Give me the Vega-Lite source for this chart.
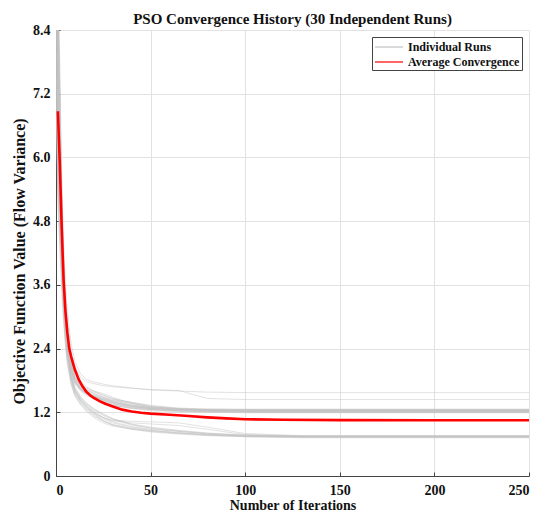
{
"$schema": "https://vega.github.io/schema/vega-lite/v6.json",
"width": 473, "height": 446,
"autosize": {"type": "none"},
"padding": {"left": 56, "top": 30, "right": 21, "bottom": 43},
"background": "white",
"config": {"view": {"stroke": null}, "font": "Liberation Serif"},
"title": {"text": "PSO Convergence History (30 Independent Runs)", "font": "Liberation Serif", "fontSize": 15, "fontWeight": "bold", "color": "#111111", "offset": 0, "dy": 4},
"datasets": {
"runs": [
{"run":1,"iter":0,"value":18},{"run":1,"iter":1,"value":8.6},{"run":1,"iter":2,"value":7.2},{"run":1,"iter":3,"value":5.6},{"run":1,"iter":4,"value":4.4},{"run":1,"iter":5,"value":3.6},{"run":1,"iter":6,"value":3.1},{"run":1,"iter":8,"value":2.5},{"run":1,"iter":10,"value":2.15},{"run":1,"iter":13,"value":1.92},{"run":1,"iter":16,"value":1.82},{"run":1,"iter":20,"value":1.77},{"run":1,"iter":25,"value":1.73},{"run":1,"iter":30,"value":1.7},{"run":1,"iter":40,"value":1.66},{"run":1,"iter":50,"value":1.62},{"run":1,"iter":65,"value":1.6},{"run":1,"iter":80,"value":1.58},{"run":1,"iter":100,"value":1.57},{"run":1,"iter":130,"value":1.57},{"run":1,"iter":250,"value":1.57},
{"run":2,"iter":0,"value":12},{"run":2,"iter":1,"value":8.1},{"run":2,"iter":2,"value":6.6},{"run":2,"iter":3,"value":5.1},{"run":2,"iter":4,"value":4.0},{"run":2,"iter":5,"value":3.3},{"run":2,"iter":6,"value":2.9},{"run":2,"iter":8,"value":2.35},{"run":2,"iter":10,"value":2.05},{"run":2,"iter":13,"value":1.86},{"run":2,"iter":16,"value":1.78},{"run":2,"iter":20,"value":1.74},{"run":2,"iter":25,"value":1.7},{"run":2,"iter":30,"value":1.68},{"run":2,"iter":40,"value":1.65},{"run":2,"iter":50,"value":1.63},{"run":2,"iter":65,"value":1.61},{"run":2,"iter":80,"value":1.46},{"run":2,"iter":100,"value":1.44},{"run":2,"iter":130,"value":1.44},{"run":2,"iter":250,"value":1.44},
{"run":3,"iter":0,"value":22},{"run":3,"iter":1,"value":9.0},{"run":3,"iter":2,"value":7.0},{"run":3,"iter":3,"value":5.2},{"run":3,"iter":4,"value":4.0},{"run":3,"iter":5,"value":3.2},{"run":3,"iter":6,"value":2.7},{"run":3,"iter":8,"value":2.2},{"run":3,"iter":10,"value":1.95},{"run":3,"iter":13,"value":1.78},{"run":3,"iter":16,"value":1.68},{"run":3,"iter":20,"value":1.6},{"run":3,"iter":25,"value":1.52},{"run":3,"iter":30,"value":1.45},{"run":3,"iter":40,"value":1.36},{"run":3,"iter":50,"value":1.3},{"run":3,"iter":65,"value":1.27},{"run":3,"iter":80,"value":1.26},{"run":3,"iter":100,"value":1.26},{"run":3,"iter":130,"value":1.26},{"run":3,"iter":250,"value":1.26},
{"run":4,"iter":0,"value":10},{"run":4,"iter":1,"value":7.2},{"run":4,"iter":2,"value":5.8},{"run":4,"iter":3,"value":4.5},{"run":4,"iter":4,"value":3.6},{"run":4,"iter":5,"value":3.0},{"run":4,"iter":6,"value":2.6},{"run":4,"iter":8,"value":2.1},{"run":4,"iter":10,"value":1.85},{"run":4,"iter":13,"value":1.7},{"run":4,"iter":16,"value":1.6},{"run":4,"iter":20,"value":1.5},{"run":4,"iter":25,"value":1.42},{"run":4,"iter":30,"value":1.36},{"run":4,"iter":40,"value":1.3},{"run":4,"iter":50,"value":1.27},{"run":4,"iter":65,"value":1.25},{"run":4,"iter":80,"value":1.24},{"run":4,"iter":100,"value":1.24},{"run":4,"iter":130,"value":1.24},{"run":4,"iter":250,"value":1.24},
{"run":5,"iter":0,"value":9},{"run":5,"iter":1,"value":6.5},{"run":5,"iter":2,"value":5.4},{"run":5,"iter":3,"value":4.3},{"run":5,"iter":4,"value":3.5},{"run":5,"iter":5,"value":2.9},{"run":5,"iter":6,"value":2.5},{"run":5,"iter":8,"value":2.05},{"run":5,"iter":10,"value":1.8},{"run":5,"iter":13,"value":1.66},{"run":5,"iter":16,"value":1.58},{"run":5,"iter":20,"value":1.5},{"run":5,"iter":25,"value":1.43},{"run":5,"iter":30,"value":1.38},{"run":5,"iter":40,"value":1.32},{"run":5,"iter":50,"value":1.28},{"run":5,"iter":65,"value":1.25},{"run":5,"iter":80,"value":1.23},{"run":5,"iter":100,"value":1.22},{"run":5,"iter":130,"value":1.22},{"run":5,"iter":250,"value":1.22},
{"run":6,"iter":0,"value":25},{"run":6,"iter":1,"value":9.5},{"run":6,"iter":2,"value":7.8},{"run":6,"iter":3,"value":5.5},{"run":6,"iter":4,"value":4.1},{"run":6,"iter":5,"value":3.2},{"run":6,"iter":6,"value":2.7},{"run":6,"iter":8,"value":2.15},{"run":6,"iter":10,"value":1.9},{"run":6,"iter":13,"value":1.74},{"run":6,"iter":16,"value":1.66},{"run":6,"iter":20,"value":1.6},{"run":6,"iter":25,"value":1.55},{"run":6,"iter":30,"value":1.48},{"run":6,"iter":40,"value":1.37},{"run":6,"iter":50,"value":1.3},{"run":6,"iter":65,"value":1.26},{"run":6,"iter":80,"value":1.24},{"run":6,"iter":100,"value":1.23},{"run":6,"iter":130,"value":1.23},{"run":6,"iter":250,"value":1.23},
{"run":7,"iter":0,"value":8.5},{"run":7,"iter":1,"value":6.0},{"run":7,"iter":2,"value":5.0},{"run":7,"iter":3,"value":4.1},{"run":7,"iter":4,"value":3.4},{"run":7,"iter":5,"value":2.9},{"run":7,"iter":6,"value":2.5},{"run":7,"iter":8,"value":2.0},{"run":7,"iter":10,"value":1.78},{"run":7,"iter":13,"value":1.64},{"run":7,"iter":16,"value":1.55},{"run":7,"iter":20,"value":1.47},{"run":7,"iter":25,"value":1.4},{"run":7,"iter":30,"value":1.34},{"run":7,"iter":40,"value":1.28},{"run":7,"iter":50,"value":1.25},{"run":7,"iter":65,"value":1.23},{"run":7,"iter":80,"value":1.22},{"run":7,"iter":100,"value":1.21},{"run":7,"iter":130,"value":1.21},{"run":7,"iter":250,"value":1.21},
{"run":8,"iter":0,"value":14},{"run":8,"iter":1,"value":7.6},{"run":8,"iter":2,"value":6.1},{"run":8,"iter":3,"value":4.7},{"run":8,"iter":4,"value":3.8},{"run":8,"iter":5,"value":3.1},{"run":8,"iter":6,"value":2.65},{"run":8,"iter":8,"value":2.12},{"run":8,"iter":10,"value":1.86},{"run":8,"iter":13,"value":1.7},{"run":8,"iter":16,"value":1.62},{"run":8,"iter":20,"value":1.55},{"run":8,"iter":25,"value":1.47},{"run":8,"iter":30,"value":1.4},{"run":8,"iter":40,"value":1.33},{"run":8,"iter":50,"value":1.29},{"run":8,"iter":65,"value":1.26},{"run":8,"iter":80,"value":1.25},{"run":8,"iter":100,"value":1.25},{"run":8,"iter":130,"value":1.25},{"run":8,"iter":250,"value":1.25},
{"run":9,"iter":0,"value":8},{"run":9,"iter":1,"value":5.7},{"run":9,"iter":2,"value":4.8},{"run":9,"iter":3,"value":3.9},{"run":9,"iter":4,"value":3.2},{"run":9,"iter":5,"value":2.7},{"run":9,"iter":6,"value":2.35},{"run":9,"iter":8,"value":1.95},{"run":9,"iter":10,"value":1.75},{"run":9,"iter":13,"value":1.62},{"run":9,"iter":16,"value":1.55},{"run":9,"iter":20,"value":1.49},{"run":9,"iter":25,"value":1.44},{"run":9,"iter":30,"value":1.39},{"run":9,"iter":40,"value":1.31},{"run":9,"iter":50,"value":1.26},{"run":9,"iter":65,"value":1.23},{"run":9,"iter":80,"value":1.22},{"run":9,"iter":100,"value":1.22},{"run":9,"iter":130,"value":1.22},{"run":9,"iter":250,"value":1.22},
{"run":10,"iter":0,"value":16},{"run":10,"iter":1,"value":8.3},{"run":10,"iter":2,"value":6.5},{"run":10,"iter":3,"value":4.9},{"run":10,"iter":4,"value":3.8},{"run":10,"iter":5,"value":3.0},{"run":10,"iter":6,"value":2.55},{"run":10,"iter":8,"value":2.05},{"run":10,"iter":10,"value":1.8},{"run":10,"iter":13,"value":1.65},{"run":10,"iter":16,"value":1.57},{"run":10,"iter":20,"value":1.52},{"run":10,"iter":25,"value":1.46},{"run":10,"iter":30,"value":1.41},{"run":10,"iter":40,"value":1.34},{"run":10,"iter":50,"value":1.28},{"run":10,"iter":65,"value":1.24},{"run":10,"iter":80,"value":1.22},{"run":10,"iter":100,"value":1.21},{"run":10,"iter":130,"value":1.2},{"run":10,"iter":250,"value":1.2},
{"run":11,"iter":0,"value":11},{"run":11,"iter":1,"value":6.8},{"run":11,"iter":2,"value":5.6},{"run":11,"iter":3,"value":4.4},{"run":11,"iter":4,"value":3.5},{"run":11,"iter":5,"value":2.85},{"run":11,"iter":6,"value":2.45},{"run":11,"iter":8,"value":2.0},{"run":11,"iter":10,"value":1.77},{"run":11,"iter":13,"value":1.63},{"run":11,"iter":16,"value":1.56},{"run":11,"iter":20,"value":1.5},{"run":11,"iter":25,"value":1.45},{"run":11,"iter":30,"value":1.42},{"run":11,"iter":40,"value":1.38},{"run":11,"iter":50,"value":1.32},{"run":11,"iter":65,"value":1.27},{"run":11,"iter":80,"value":1.25},{"run":11,"iter":100,"value":1.24},{"run":11,"iter":130,"value":1.24},{"run":11,"iter":250,"value":1.24},
{"run":12,"iter":0,"value":9.5},{"run":12,"iter":1,"value":6.2},{"run":12,"iter":2,"value":5.2},{"run":12,"iter":3,"value":4.2},{"run":12,"iter":4,"value":3.4},{"run":12,"iter":5,"value":2.8},{"run":12,"iter":6,"value":2.4},{"run":12,"iter":8,"value":1.98},{"run":12,"iter":10,"value":1.76},{"run":12,"iter":13,"value":1.62},{"run":12,"iter":16,"value":1.54},{"run":12,"iter":20,"value":1.47},{"run":12,"iter":25,"value":1.4},{"run":12,"iter":30,"value":1.33},{"run":12,"iter":40,"value":1.27},{"run":12,"iter":50,"value":1.23},{"run":12,"iter":65,"value":1.21},{"run":12,"iter":80,"value":1.2},{"run":12,"iter":100,"value":1.19},{"run":12,"iter":130,"value":1.19},{"run":12,"iter":250,"value":1.19},
{"run":13,"iter":0,"value":20},{"run":13,"iter":1,"value":8.8},{"run":13,"iter":2,"value":6.9},{"run":13,"iter":3,"value":5.1},{"run":13,"iter":4,"value":3.9},{"run":13,"iter":5,"value":3.1},{"run":13,"iter":6,"value":2.6},{"run":13,"iter":8,"value":2.08},{"run":13,"iter":10,"value":1.83},{"run":13,"iter":13,"value":1.68},{"run":13,"iter":16,"value":1.6},{"run":13,"iter":20,"value":1.53},{"run":13,"iter":25,"value":1.48},{"run":13,"iter":30,"value":1.44},{"run":13,"iter":40,"value":1.39},{"run":13,"iter":50,"value":1.33},{"run":13,"iter":65,"value":1.28},{"run":13,"iter":80,"value":1.26},{"run":13,"iter":100,"value":1.25},{"run":13,"iter":130,"value":1.25},{"run":13,"iter":250,"value":1.25},
{"run":14,"iter":0,"value":7.5},{"run":14,"iter":1,"value":5.4},{"run":14,"iter":2,"value":4.6},{"run":14,"iter":3,"value":3.8},{"run":14,"iter":4,"value":3.2},{"run":14,"iter":5,"value":2.7},{"run":14,"iter":6,"value":2.35},{"run":14,"iter":8,"value":1.95},{"run":14,"iter":10,"value":1.74},{"run":14,"iter":13,"value":1.6},{"run":14,"iter":16,"value":1.52},{"run":14,"iter":20,"value":1.45},{"run":14,"iter":25,"value":1.38},{"run":14,"iter":30,"value":1.33},{"run":14,"iter":40,"value":1.28},{"run":14,"iter":50,"value":1.25},{"run":14,"iter":65,"value":1.23},{"run":14,"iter":80,"value":1.22},{"run":14,"iter":100,"value":1.22},{"run":14,"iter":130,"value":1.22},{"run":14,"iter":250,"value":1.22},
{"run":15,"iter":0,"value":13},{"run":15,"iter":1,"value":7.3},{"run":15,"iter":2,"value":5.9},{"run":15,"iter":3,"value":4.6},{"run":15,"iter":4,"value":3.7},{"run":15,"iter":5,"value":3.0},{"run":15,"iter":6,"value":2.55},{"run":15,"iter":8,"value":2.06},{"run":15,"iter":10,"value":1.82},{"run":15,"iter":13,"value":1.67},{"run":15,"iter":16,"value":1.58},{"run":15,"iter":20,"value":1.51},{"run":15,"iter":25,"value":1.45},{"run":15,"iter":30,"value":1.39},{"run":15,"iter":40,"value":1.32},{"run":15,"iter":50,"value":1.27},{"run":15,"iter":65,"value":1.24},{"run":15,"iter":80,"value":1.23},{"run":15,"iter":100,"value":1.23},{"run":15,"iter":130,"value":1.23},{"run":15,"iter":250,"value":1.23},
{"run":16,"iter":0,"value":15},{"run":16,"iter":1,"value":7.9},{"run":16,"iter":2,"value":6.3},{"run":16,"iter":3,"value":4.8},{"run":16,"iter":4,"value":3.8},{"run":16,"iter":5,"value":3.1},{"run":16,"iter":6,"value":2.6},{"run":16,"iter":8,"value":2.1},{"run":16,"iter":10,"value":1.84},{"run":16,"iter":13,"value":1.7},{"run":16,"iter":16,"value":1.63},{"run":16,"iter":20,"value":1.58},{"run":16,"iter":25,"value":1.52},{"run":16,"iter":30,"value":1.46},{"run":16,"iter":40,"value":1.38},{"run":16,"iter":50,"value":1.31},{"run":16,"iter":65,"value":1.26},{"run":16,"iter":80,"value":1.24},{"run":16,"iter":100,"value":1.23},{"run":16,"iter":130,"value":1.23},{"run":16,"iter":250,"value":1.23},
{"run":17,"iter":0,"value":8},{"run":17,"iter":1,"value":5.8},{"run":17,"iter":2,"value":4.9},{"run":17,"iter":3,"value":4.0},{"run":17,"iter":4,"value":3.3},{"run":17,"iter":5,"value":2.75},{"run":17,"iter":6,"value":2.4},{"run":17,"iter":8,"value":1.98},{"run":17,"iter":10,"value":1.77},{"run":17,"iter":13,"value":1.64},{"run":17,"iter":16,"value":1.56},{"run":17,"iter":20,"value":1.49},{"run":17,"iter":25,"value":1.42},{"run":17,"iter":30,"value":1.36},{"run":17,"iter":40,"value":1.29},{"run":17,"iter":50,"value":1.25},{"run":17,"iter":65,"value":1.22},{"run":17,"iter":80,"value":1.21},{"run":17,"iter":100,"value":1.2},{"run":17,"iter":130,"value":1.2},{"run":17,"iter":250,"value":1.2},
{"run":18,"iter":0,"value":24},{"run":18,"iter":1,"value":9.2},{"run":18,"iter":2,"value":7.4},{"run":18,"iter":3,"value":5.3},{"run":18,"iter":4,"value":4.0},{"run":18,"iter":5,"value":3.15},{"run":18,"iter":6,"value":2.65},{"run":18,"iter":8,"value":2.12},{"run":18,"iter":10,"value":1.87},{"run":18,"iter":13,"value":1.72},{"run":18,"iter":16,"value":1.63},{"run":18,"iter":20,"value":1.56},{"run":18,"iter":25,"value":1.49},{"run":18,"iter":30,"value":1.42},{"run":18,"iter":40,"value":1.34},{"run":18,"iter":50,"value":1.29},{"run":18,"iter":65,"value":1.26},{"run":18,"iter":80,"value":1.24},{"run":18,"iter":100,"value":1.24},{"run":18,"iter":130,"value":1.24},{"run":18,"iter":250,"value":1.24},
{"run":19,"iter":0,"value":10},{"run":19,"iter":1,"value":6.4},{"run":19,"iter":2,"value":5.3},{"run":19,"iter":3,"value":4.2},{"run":19,"iter":4,"value":3.4},{"run":19,"iter":5,"value":2.85},{"run":19,"iter":6,"value":2.45},{"run":19,"iter":8,"value":2.0},{"run":19,"iter":10,"value":1.78},{"run":19,"iter":13,"value":1.65},{"run":19,"iter":16,"value":1.57},{"run":19,"iter":20,"value":1.5},{"run":19,"iter":25,"value":1.43},{"run":19,"iter":30,"value":1.37},{"run":19,"iter":40,"value":1.31},{"run":19,"iter":50,"value":1.27},{"run":19,"iter":65,"value":1.25},{"run":19,"iter":80,"value":1.24},{"run":19,"iter":100,"value":1.23},{"run":19,"iter":130,"value":1.23},{"run":19,"iter":250,"value":1.23},
{"run":20,"iter":0,"value":11},{"run":20,"iter":1,"value":6.7},{"run":20,"iter":2,"value":5.4},{"run":20,"iter":3,"value":4.2},{"run":20,"iter":4,"value":3.3},{"run":20,"iter":5,"value":2.7},{"run":20,"iter":6,"value":2.3},{"run":20,"iter":8,"value":1.85},{"run":20,"iter":10,"value":1.6},{"run":20,"iter":13,"value":1.42},{"run":20,"iter":16,"value":1.3},{"run":20,"iter":20,"value":1.18},{"run":20,"iter":25,"value":1.05},{"run":20,"iter":30,"value":0.97},{"run":20,"iter":40,"value":0.9},{"run":20,"iter":50,"value":0.86},{"run":20,"iter":65,"value":0.82},{"run":20,"iter":80,"value":0.78},{"run":20,"iter":100,"value":0.75},{"run":20,"iter":130,"value":0.74},{"run":20,"iter":250,"value":0.74},
{"run":21,"iter":0,"value":7},{"run":21,"iter":1,"value":5.1},{"run":21,"iter":2,"value":4.3},{"run":21,"iter":3,"value":3.5},{"run":21,"iter":4,"value":2.9},{"run":21,"iter":5,"value":2.45},{"run":21,"iter":6,"value":2.1},{"run":21,"iter":8,"value":1.72},{"run":21,"iter":10,"value":1.5},{"run":21,"iter":13,"value":1.34},{"run":21,"iter":16,"value":1.22},{"run":21,"iter":20,"value":1.1},{"run":21,"iter":25,"value":1.0},{"run":21,"iter":30,"value":0.94},{"run":21,"iter":40,"value":0.88},{"run":21,"iter":50,"value":0.84},{"run":21,"iter":65,"value":0.8},{"run":21,"iter":80,"value":0.77},{"run":21,"iter":100,"value":0.75},{"run":21,"iter":130,"value":0.74},{"run":21,"iter":250,"value":0.74},
{"run":22,"iter":0,"value":17},{"run":22,"iter":1,"value":8.0},{"run":22,"iter":2,"value":6.2},{"run":22,"iter":3,"value":4.6},{"run":22,"iter":4,"value":3.5},{"run":22,"iter":5,"value":2.8},{"run":22,"iter":6,"value":2.35},{"run":22,"iter":8,"value":1.88},{"run":22,"iter":10,"value":1.62},{"run":22,"iter":13,"value":1.45},{"run":22,"iter":16,"value":1.33},{"run":22,"iter":20,"value":1.22},{"run":22,"iter":25,"value":1.1},{"run":22,"iter":30,"value":1.02},{"run":22,"iter":40,"value":0.93},{"run":22,"iter":50,"value":0.88},{"run":22,"iter":65,"value":0.84},{"run":22,"iter":80,"value":0.8},{"run":22,"iter":100,"value":0.77},{"run":22,"iter":130,"value":0.76},{"run":22,"iter":250,"value":0.76},
{"run":23,"iter":0,"value":9},{"run":23,"iter":1,"value":6.1},{"run":23,"iter":2,"value":5.0},{"run":23,"iter":3,"value":4.0},{"run":23,"iter":4,"value":3.2},{"run":23,"iter":5,"value":2.65},{"run":23,"iter":6,"value":2.25},{"run":23,"iter":8,"value":1.8},{"run":23,"iter":10,"value":1.56},{"run":23,"iter":13,"value":1.4},{"run":23,"iter":16,"value":1.28},{"run":23,"iter":20,"value":1.17},{"run":23,"iter":25,"value":1.08},{"run":23,"iter":30,"value":1.0},{"run":23,"iter":40,"value":0.92},{"run":23,"iter":50,"value":0.86},{"run":23,"iter":65,"value":0.81},{"run":23,"iter":80,"value":0.77},{"run":23,"iter":100,"value":0.74},{"run":23,"iter":130,"value":0.73},{"run":23,"iter":250,"value":0.73},
{"run":24,"iter":0,"value":13},{"run":24,"iter":1,"value":7.4},{"run":24,"iter":2,"value":5.9},{"run":24,"iter":3,"value":4.5},{"run":24,"iter":4,"value":3.5},{"run":24,"iter":5,"value":2.8},{"run":24,"iter":6,"value":2.35},{"run":24,"iter":8,"value":1.9},{"run":24,"iter":10,"value":1.65},{"run":24,"iter":13,"value":1.48},{"run":24,"iter":16,"value":1.36},{"run":24,"iter":20,"value":1.26},{"run":24,"iter":25,"value":1.16},{"run":24,"iter":30,"value":1.08},{"run":24,"iter":40,"value":0.98},{"run":24,"iter":50,"value":0.92},{"run":24,"iter":65,"value":0.86},{"run":24,"iter":80,"value":0.81},{"run":24,"iter":100,"value":0.77},{"run":24,"iter":130,"value":0.75},{"run":24,"iter":250,"value":0.75},
{"run":25,"iter":0,"value":8},{"run":25,"iter":1,"value":5.6},{"run":25,"iter":2,"value":4.7},{"run":25,"iter":3,"value":3.8},{"run":25,"iter":4,"value":3.1},{"run":25,"iter":5,"value":2.6},{"run":25,"iter":6,"value":2.2},{"run":25,"iter":8,"value":1.78},{"run":25,"iter":10,"value":1.55},{"run":25,"iter":13,"value":1.38},{"run":25,"iter":16,"value":1.26},{"run":25,"iter":20,"value":1.15},{"run":25,"iter":25,"value":1.04},{"run":25,"iter":30,"value":0.96},{"run":25,"iter":40,"value":0.89},{"run":25,"iter":50,"value":0.85},{"run":25,"iter":65,"value":0.81},{"run":25,"iter":80,"value":0.78},{"run":25,"iter":100,"value":0.76},{"run":25,"iter":130,"value":0.75},{"run":25,"iter":250,"value":0.75},
{"run":26,"iter":0,"value":21},{"run":26,"iter":1,"value":9.1},{"run":26,"iter":2,"value":7.0},{"run":26,"iter":3,"value":5.0},{"run":26,"iter":4,"value":3.7},{"run":26,"iter":5,"value":2.9},{"run":26,"iter":6,"value":2.4},{"run":26,"iter":8,"value":1.9},{"run":26,"iter":10,"value":1.63},{"run":26,"iter":13,"value":1.46},{"run":26,"iter":16,"value":1.35},{"run":26,"iter":20,"value":1.24},{"run":26,"iter":25,"value":1.14},{"run":26,"iter":30,"value":1.06},{"run":26,"iter":40,"value":0.96},{"run":26,"iter":50,"value":0.9},{"run":26,"iter":65,"value":0.85},{"run":26,"iter":80,"value":0.8},{"run":26,"iter":100,"value":0.76},{"run":26,"iter":130,"value":0.74},{"run":26,"iter":250,"value":0.74},
{"run":27,"iter":0,"value":12},{"run":27,"iter":1,"value":7.0},{"run":27,"iter":2,"value":5.6},{"run":27,"iter":3,"value":4.3},{"run":27,"iter":4,"value":3.4},{"run":27,"iter":5,"value":2.75},{"run":27,"iter":6,"value":2.3},{"run":27,"iter":8,"value":1.85},{"run":27,"iter":10,"value":1.6},{"run":27,"iter":13,"value":1.43},{"run":27,"iter":16,"value":1.32},{"run":27,"iter":20,"value":1.2},{"run":27,"iter":25,"value":1.1},{"run":27,"iter":30,"value":1.04},{"run":27,"iter":40,"value":1.0},{"run":27,"iter":50,"value":0.98},{"run":27,"iter":65,"value":0.95},{"run":27,"iter":80,"value":0.88},{"run":27,"iter":100,"value":0.78},{"run":27,"iter":130,"value":0.75},{"run":27,"iter":250,"value":0.75},
{"run":28,"iter":0,"value":10},{"run":28,"iter":1,"value":6.4},{"run":28,"iter":2,"value":5.2},{"run":28,"iter":3,"value":4.1},{"run":28,"iter":4,"value":3.3},{"run":28,"iter":5,"value":2.7},{"run":28,"iter":6,"value":2.28},{"run":28,"iter":8,"value":1.84},{"run":28,"iter":10,"value":1.59},{"run":28,"iter":13,"value":1.42},{"run":28,"iter":16,"value":1.3},{"run":28,"iter":20,"value":1.19},{"run":28,"iter":25,"value":1.1},{"run":28,"iter":30,"value":1.05},{"run":28,"iter":40,"value":1.03},{"run":28,"iter":50,"value":1.02},{"run":28,"iter":65,"value":1.0},{"run":28,"iter":80,"value":0.92},{"run":28,"iter":100,"value":0.8},{"run":28,"iter":130,"value":0.76},{"run":28,"iter":250,"value":0.76},
{"run":29,"iter":0,"value":15},{"run":29,"iter":1,"value":7.7},{"run":29,"iter":2,"value":6.1},{"run":29,"iter":3,"value":4.6},{"run":29,"iter":4,"value":3.6},{"run":29,"iter":5,"value":2.9},{"run":29,"iter":6,"value":2.4},{"run":29,"iter":8,"value":1.93},{"run":29,"iter":10,"value":1.67},{"run":29,"iter":13,"value":1.5},{"run":29,"iter":16,"value":1.38},{"run":29,"iter":20,"value":1.27},{"run":29,"iter":25,"value":1.17},{"run":29,"iter":30,"value":1.08},{"run":29,"iter":40,"value":0.97},{"run":29,"iter":50,"value":0.9},{"run":29,"iter":65,"value":0.84},{"run":29,"iter":80,"value":0.79},{"run":29,"iter":100,"value":0.75},{"run":29,"iter":130,"value":0.73},{"run":29,"iter":250,"value":0.73},
{"run":30,"iter":0,"value":7.5},{"run":30,"iter":1,"value":5.4},{"run":30,"iter":2,"value":4.5},{"run":30,"iter":3,"value":3.7},{"run":30,"iter":4,"value":3.0},{"run":30,"iter":5,"value":2.5},{"run":30,"iter":6,"value":2.15},{"run":30,"iter":8,"value":1.75},{"run":30,"iter":10,"value":1.52},{"run":30,"iter":13,"value":1.36},{"run":30,"iter":16,"value":1.24},{"run":30,"iter":20,"value":1.13},{"run":30,"iter":25,"value":1.03},{"run":30,"iter":30,"value":0.96},{"run":30,"iter":40,"value":0.88},{"run":30,"iter":50,"value":0.83},{"run":30,"iter":65,"value":0.79},{"run":30,"iter":80,"value":0.76},{"run":30,"iter":100,"value":0.74},{"run":30,"iter":130,"value":0.72},{"run":30,"iter":250,"value":0.72}
],
"average": [
{"iter":1,"value":6.87},{"iter":2,"value":5.9},{"iter":3,"value":4.7},{"iter":4,"value":3.7},{"iter":5,"value":3.1},{"iter":6,"value":2.7},{"iter":7,"value":2.4},{"iter":8,"value":2.25},{"iter":9,"value":2.12},{"iter":10,"value":2.0},{"iter":12,"value":1.82},{"iter":14,"value":1.69},{"iter":16,"value":1.59},{"iter":18,"value":1.52},{"iter":20,"value":1.47},{"iter":23,"value":1.41},{"iter":26,"value":1.36},{"iter":30,"value":1.31},{"iter":35,"value":1.25},{"iter":40,"value":1.215},{"iter":45,"value":1.19},{"iter":50,"value":1.175},{"iter":60,"value":1.155},{"iter":70,"value":1.13},{"iter":80,"value":1.105},{"iter":90,"value":1.085},{"iter":100,"value":1.07},{"iter":120,"value":1.058},{"iter":150,"value":1.052},{"iter":200,"value":1.05},{"iter":250,"value":1.05}
]
},
"layer": [
{
"data": {"name": "runs"},
"mark": {"type": "line", "strokeWidth": 0.8, "opacity": 0.6, "clip": true},
"encoding": {
"x": {"field": "iter", "type": "quantitative", "scale": {"domain": [0, 250], "nice": false},
"axis": {"title": "Number of Iterations", "values": [0, 50, 100, 150, 200, 250], "grid": true, "gridColor": "#e2e2e2", "domainColor": "#444444", "tickColor": "#444444", "tickSize": -4, "labelPadding": 11, "labelFont": "Liberation Serif", "labelFontSize": 14, "labelFontWeight": "bold", "labelColor": "#111111", "titleFont": "Liberation Serif", "titleFontSize": 14, "titleFontWeight": "bold", "titleColor": "#111111", "titleY": 33, "titleBaseline": "alphabetic"}},
"y": {"field": "value", "type": "quantitative", "scale": {"domain": [0, 8.4], "nice": false},
"axis": {"title": "Objective Function Value (Flow Variance)", "values": [0, 1.2, 2.4, 3.6, 4.8, 6.0, 7.2, 8.4], "labelExpr": "datum.value == 0 ? '0' : format(datum.value, '.1f')", "grid": true, "gridColor": "#e2e2e2", "domainColor": "#444444", "tickColor": "#444444", "tickSize": -4, "labelPadding": 10, "labelFont": "Liberation Serif", "labelFontSize": 14, "labelFontWeight": "bold", "labelColor": "#111111", "titleFont": "Liberation Serif", "titleFontSize": 16, "titleFontWeight": "bold", "titleColor": "#111111", "titleX": -32, "titleY": 231, "titleBaseline": "alphabetic"}},
"detail": {"field": "run", "type": "nominal"},
"color": {"datum": "Individual Runs", "type": "nominal",
"scale": {"domain": ["Individual Runs", "Average Convergence"], "range": ["#c2c2c2", "#ff0000"]},
"legend": {"title": null, "orient": "top-right", "offset": 7, "strokeColor": "#444444", "fillColor": "white", "padding": 2, "symbolType": "M-2,0H2", "symbolSize": 196, "symbolOffset": 7, "labelOffset": 11, "symbolStrokeWidth": 2, "labelFont": "Liberation Serif", "labelFontSize": 12, "labelFontWeight": "bold", "labelColor": "#111111", "rowPadding": 1}}
}
},
{
"data": {"name": "average"},
"mark": {"type": "line", "strokeWidth": 2.6, "clip": true},
"encoding": {
"x": {"field": "iter", "type": "quantitative"},
"y": {"field": "value", "type": "quantitative"},
"color": {"datum": "Average Convergence", "type": "nominal"}
}
}
]
}
